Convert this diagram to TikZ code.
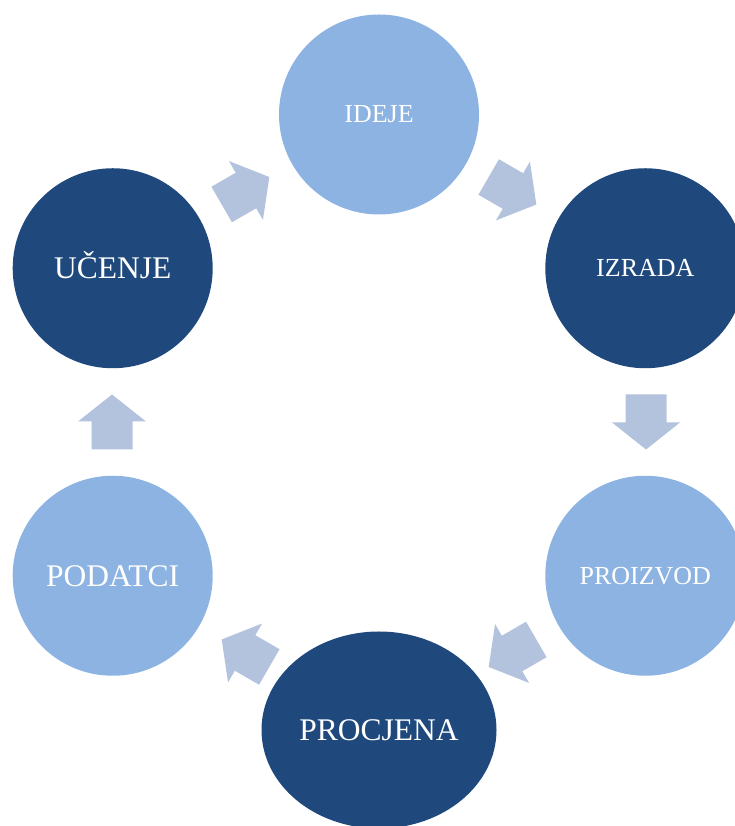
\documentclass[tikz,border=0pt]{standalone}
\usepackage{fontspec}
\setmainfont{Liberation Serif}
\usetikzlibrary{shapes.geometric,calc}
\definecolor{darkblue}{HTML}{1F497D}
\definecolor{lightblue}{HTML}{8DB3E2}
\definecolor{arrowblue}{HTML}{B3C3DE}
\tikzset{
  stage/.style={circle, minimum size=200pt, inner sep=0pt, text=white, text depth=0pt},
  darkstage/.style={stage, fill=darkblue},
  lightstage/.style={stage, fill=lightblue},
  bigtext/.style={font=\fontsize{31.5pt}{34pt}\selectfont, text height=20.6pt},
  smalltext/.style={font=\fontsize{26pt}{28pt}\selectfont, text height=17pt},
  pics/cyclearrow/.style={code={
    \fill[arrowblue] (-27.5pt,-20.5pt) -- (0.5pt,-20.5pt) -- (0.5pt,-34pt) -- (27.5pt,0pt)
      -- (0.5pt,34pt) -- (0.5pt,20.5pt) -- (-27.5pt,20.5pt) -- cycle;}}
}
\begin{document}
\begin{tikzpicture}
\useasboundingbox (0,0) rectangle (735pt,826pt);
\clip (0,0) rectangle (735pt,826pt);
\coordinate (c) at (379pt,404pt);
% stages
\node[lightstage, smalltext] (ideje) at ($(c)+(90:307.5pt)$) {IDEJE};
\node[darkstage, smalltext] (izrada) at ($(c)+(30:307.5pt)$) {IZRADA};
\node[lightstage, smalltext] (proizvod) at ($(c)+(-30:307.5pt)$) {PROIZVOD};
\node[darkstage, bigtext, ellipse, minimum width=235pt, minimum height=197pt] (procjena) at ($(c)+(-90:308pt)$) {PROCJENA};
\node[lightstage, bigtext] (podatci) at ($(c)+(-150:307.5pt)$) {PODATCI};
\node[darkstage, bigtext] (ucenje) at ($(c)+(150:307.5pt)$) {UČENJE};
% block arrows of the cycle
\pic[rotate=30] at ($(c)+(120:267pt)$) {cyclearrow};
\pic[rotate=-30] at ($(c)+(60:267pt)$) {cyclearrow};
\pic[rotate=-90] at ($(c)+(0:267pt)$) {cyclearrow};
\pic[rotate=-150] at ($(c)+(-60:267pt)$) {cyclearrow};
\pic[rotate=150] at ($(c)+(-120:267pt)$) {cyclearrow};
\pic[rotate=90] at ($(c)+(180:267pt)$) {cyclearrow};
\end{tikzpicture}
\end{document}
